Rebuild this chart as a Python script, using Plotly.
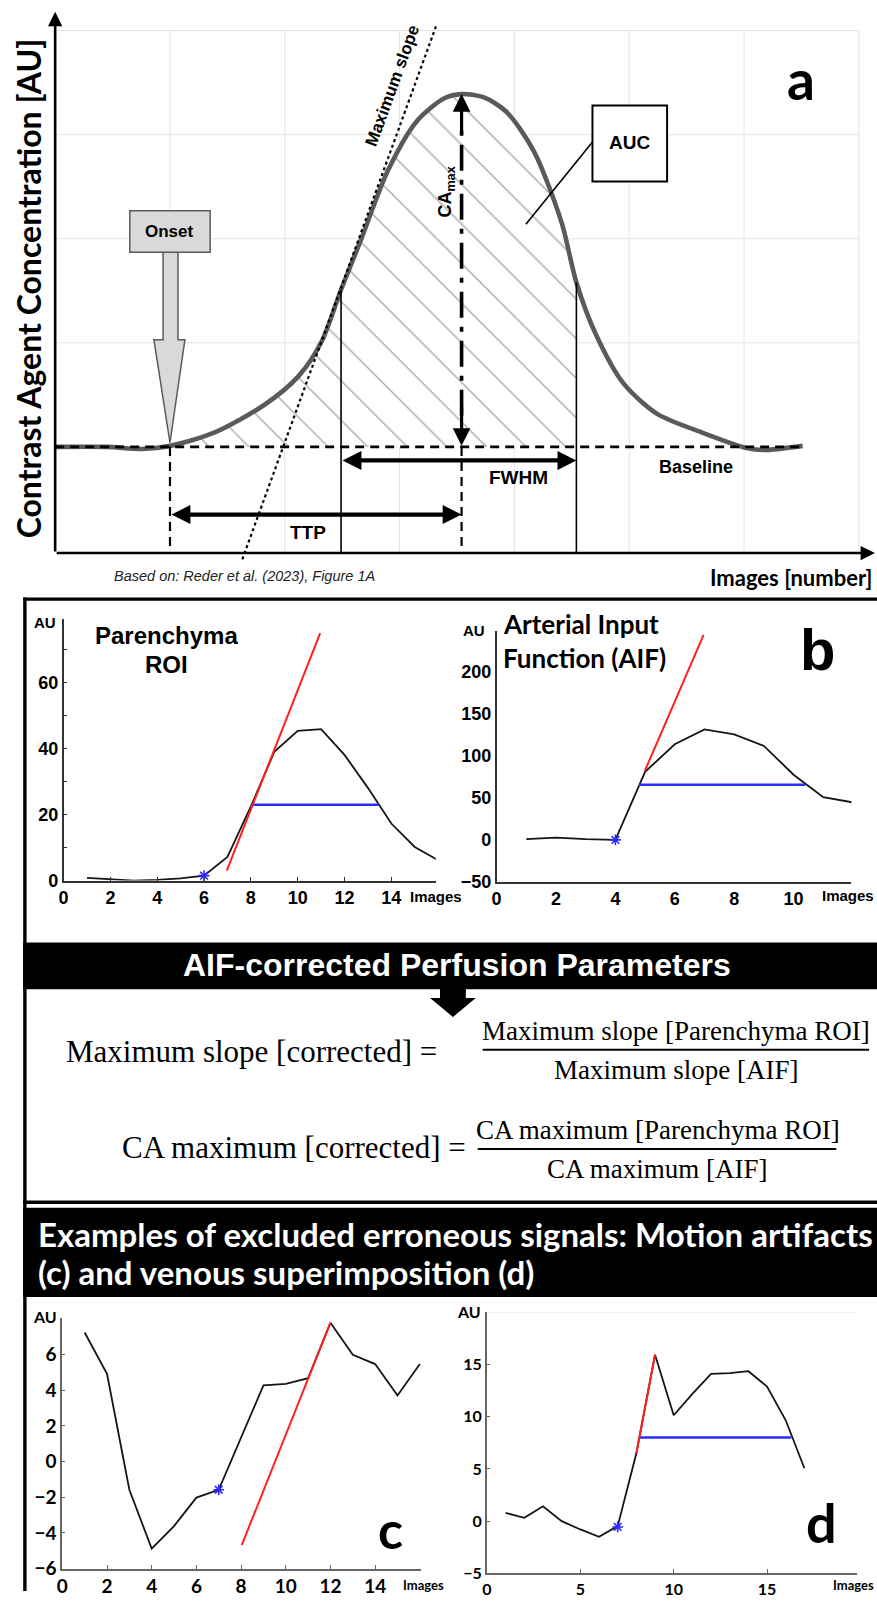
import plotly.graph_objects as go

W, H = 877, 1602

# ---------------- data ----------------
# (a) schematic curve: x in image-grid units, y in grid units above baseline
curve_x = [0.0, 0.45, 0.76, 1.0, 1.39, 1.83, 2.12, 2.32, 2.49, 2.66, 2.90, 3.15, 3.39, 3.54,
           3.73, 3.93, 4.17, 4.41, 4.54, 4.71, 4.95, 5.24, 5.63, 6.02, 6.17, 6.51]
curve_y = [0.0, 0.0, -0.02, 0.01, 0.14, 0.41, 0.68, 1.01, 1.51, 1.98, 2.66, 3.13, 3.35, 3.39,
           3.36, 3.22, 2.84, 2.16, 1.58, 1.08, 0.61, 0.32, 0.14, -0.01, -0.03, 0.01]
onset_x = 1.0
peak_x, peak_y = 3.54, 3.39
fwhm_x = [2.49, 4.54]
fwhm_curve_y = [1.51, 1.58]
slope_x = [1.63, 3.32]
slope_y = [-1.08, 4.05]
baseline_end = 6.5

# (b) parenchyma ROI
par_x = list(range(1, 17))
par_y = [0.8, 0.3, 0.0, 0.2, 0.7, 1.5, 7.2, 22.5, 39.0, 45.4, 45.9, 38.1, 28.1, 17.3, 10.2, 6.2]
par_onset = (6, 1.5)
par_slope_x = [6.97, 10.96]
par_slope_y = [3.0, 75.0]
par_fwhm_x = [8.03, 13.47]
par_fwhm_y = 23.0

# (b) arterial input function
aif_x = list(range(1, 13))
aif_y = [0.8, 2.8, 0.8, 0.0, 81.0, 113.8, 131.5, 125.6, 111.8, 77.6, 50.8, 44.6]
aif_onset = (4, 0.0)
aif_slope_x = [4.99, 6.97]
aif_slope_y = [82.0, 244.0]
aif_fwhm_x = [4.79, 10.39]
aif_fwhm_y = 65.7

# (c) motion artifact
c_x = list(range(1, 17))
c_y = [7.24, 4.92, -1.58, -4.88, -3.62, -2.02, -1.58, 1.30, 4.27, 4.36, 4.68, 7.79, 5.99, 5.47, 3.71, 5.47]
c_onset = (7, -1.58)
c_slope_x = [8.03, 12.0]
c_slope_y = [-4.68, 7.79]

# (d) venous superimposition
d_x = list(range(1, 18))
d_y = [0.79, 0.32, 1.42, 0.0, -0.79, -1.49, -0.47, 6.49, 15.92, 10.13, 12.18, 14.08, 14.15, 14.34, 12.88, 9.65, 5.06]
d_onset = (7, -0.55)
d_slope_x = [8.0, 9.0]
d_slope_y = [6.49, 15.92]
d_fwhm_x = [8.16, 16.3]
d_fwhm_y = 8.0

# ---------------- helpers ----------------
def PX(x):
    return x / W


def PY(y):
    return 1 - y / H


def dom_x(p0, s, r):
    return [max(0, (p0 + r[0] * s) / W), min(1, (p0 + r[1] * s) / W)]


def dom_y(p0, s, r):
    return [max(0, 1 - (p0 - r[0] * s) / H), min(1, 1 - (p0 - r[1] * s) / H)]


ARIAL = "Liberation Sans, Arial, sans-serif"
CALI = "Lato, Open Sans, sans-serif"
SERIF = "Liberation Serif, Times New Roman, serif"

RED = "#ff1f1f"
BLUE = "#2b2bff"
INK = "#151515"

fig = go.Figure()

# ---------------- panel a traces ----------------
hx = [x for x in curve_x if onset_x <= x <= fwhm_x[1]]
hy = [y for x, y in zip(curve_x, curve_y) if onset_x <= x <= fwhm_x[1]]
fig.add_trace(go.Scatter(x=hx, y=hy, xaxis="x", yaxis="y", mode="lines",
                         line=dict(width=0, shape="spline", smoothing=0.8),
                         fill="tozeroy", fillcolor="white",
                         fillpattern=dict(shape="\\", fgcolor="#555", bgcolor="white",
                                          size=28, solidity=0.05),
                         hoverinfo="skip"))
fig.add_trace(go.Scatter(x=curve_x, y=curve_y, xaxis="x", yaxis="y", mode="lines",
                         line=dict(color="#5a5a5a", width=4.6, shape="spline", smoothing=0.8),
                         hoverinfo="skip"))


def add_series(xs, ys, onset, sx, sy, fx, fy, xa, ya):
    fig.add_trace(go.Scatter(x=xs, y=ys, xaxis=xa, yaxis=ya, mode="lines",
                             line=dict(color=INK, width=1.8), hoverinfo="skip"))
    if fx is not None:
        fig.add_trace(go.Scatter(x=fx, y=[fy, fy], xaxis=xa, yaxis=ya, mode="lines",
                                 line=dict(color=BLUE, width=2.5), hoverinfo="skip"))
    fig.add_trace(go.Scatter(x=sx, y=sy, xaxis=xa, yaxis=ya, mode="lines",
                             line=dict(color=RED, width=2), hoverinfo="skip"))
    fig.add_trace(go.Scatter(x=[onset[0]], y=[onset[1]], xaxis=xa, yaxis=ya, mode="markers",
                             marker=dict(symbol="asterisk-open", size=9, color=BLUE,
                                         line=dict(color=BLUE, width=1.6)),
                             cliponaxis=False, hoverinfo="skip"))


add_series(par_x, par_y, par_onset, par_slope_x, par_slope_y, par_fwhm_x, par_fwhm_y, "x2", "y2")
add_series(aif_x, aif_y, aif_onset, aif_slope_x, aif_slope_y, aif_fwhm_x, aif_fwhm_y, "x3", "y3")
add_series(c_x, c_y, c_onset, c_slope_x, c_slope_y, None, None, "x4", "y4")
add_series(d_x, d_y, d_onset, d_slope_x, d_slope_y, d_fwhm_x, d_fwhm_y, "x5", "y5")

# ---------------- axes ----------------
ra_x, ra_y = [-0.05, 7.15], [-1.12, 4.2]
rb1_x, rb1_y = [0, 15.9], [0, 79.3]
rb2_x, rb2_y = [0, 11.95], [-50, 249]
rc_x, rc_y = [0, 16.07], [-6, 8.08]
rd_x, rd_y = [0, 19.8], [-5, 20]


def small_axis(rng, dom, anchor, tickvals, ticktext, font, color, lw, ticks, tlen):
    d = dict(range=rng, domain=dom, anchor=anchor, showline=True, linecolor=color,
             linewidth=lw, showgrid=False, zeroline=False, tickvals=tickvals,
             tickfont=font, ticks=ticks, ticklen=tlen, tickcolor=color, tickwidth=1,
             fixedrange=True)
    if ticktext is not None:
        d["ticktext"] = ticktext
    return d


fb = dict(family=ARIAL, size=18, color="black", weight="bold")
fc = dict(family=CALI, size=19, color="black", weight="bold")
fd = dict(family=CALI, size=16, color="black", weight="bold")

fig.update_layout(
    xaxis=dict(range=ra_x, domain=dom_x(49.5, 115.6, ra_x), anchor="y", visible=False, fixedrange=True),
    yaxis=dict(range=ra_y, domain=dom_y(450, 104.8, ra_y), anchor="x", visible=False, fixedrange=True),
    xaxis2=small_axis(rb1_x, dom_x(58, 23.57, rb1_x), "y2", list(range(0, 15, 2)), None, fb, "#333", 1.5, "inside", 4),
    yaxis2=small_axis(rb1_y, dom_y(886.7, 3.323, rb1_y), "x2", list(range(0, 80, 10)),
                      ["0", "", "20", "", "40", "", "60", ""], fb, "#333", 1.5, "inside", 4),
    xaxis3=small_axis(rb2_x, dom_x(494, 29.9, rb2_x), "y3", list(range(0, 12, 2)), None, fb, "#333", 1.5, "", 0),
    yaxis3=small_axis(rb2_y, dom_y(845.7, 0.846, rb2_y), "x3", list(range(-50, 201, 50)), None, fb, "#333", 1.5, "", 0),
    xaxis4=small_axis(rc_x, dom_x(56.7, 22.5, rc_x), "y4", list(range(0, 15, 2)), None, fc, "#666", 2, "inside", 4),
    yaxis4=small_axis(rc_y, dom_y(1471.7, 17.95, rc_y), "x4", list(range(-6, 7, 2)), None, fc, "#666", 2, "inside", 3),
    xaxis5=small_axis(rd_x, dom_x(484.3, 18.8, rd_x), "y5", [0, 5, 10, 15], None, fd, "#666", 2, "inside", 4),
    yaxis5=small_axis(rd_y, dom_y(1531.7, 10.53, rd_y), "x5", [-5, 0, 5, 10, 15], None, fd, "#666", 2, "inside", 3),
)

# ---------------- shapes ----------------
shapes = []


def dline(x0, y0, x1, y1, color="black", width=1.5, dash="solid", layer="above", ref=("x", "y")):
    shapes.append(dict(type="line", xref=ref[0], yref=ref[1], x0=x0, y0=y0, x1=x1, y1=y1,
                       line=dict(color=color, width=width, dash=dash), layer=layer))


# panel a grid
for i in range(1, 8):
    dline(i, -1.02, i, 4, color="#e3e3e3", width=1, layer="below")
for j in range(1, 5):
    dline(0, j, 7, j, color="#e3e3e3", width=1, layer="below")

# baseline and guide lines
dline(0, 0, baseline_end, 0, width=2.6, dash="9px,6px")
dline(onset_x, 0, onset_x, -1.02, width=2.2, dash="9px,6px")
dline(peak_x, 0, peak_x, -1.02, width=2.2, dash="9px,6px")
dline(fwhm_x[0], fwhm_curve_y[0], fwhm_x[0], -1.02, width=1.6)
dline(fwhm_x[1], fwhm_curve_y[1], fwhm_x[1], -1.02, width=1.6)
dline(slope_x[0], slope_y[0], slope_x[1], slope_y[1], width=2.2, dash="dot")
dline(peak_x, 0.3, peak_x, peak_y - 0.3, width=3.6, dash="26px,9px,5px,9px")

# onset block arrow
shapes.append(dict(type="path", xref="x", yref="y",
                   path="M 0.94,1.88 L 0.94,1.03 L 0.86,1.03 L 1.0,0.04 L 1.13,1.03 L 1.07,1.03 L 1.07,1.88 Z",
                   fillcolor="#d9d9d9", line=dict(color="#5a5a5a", width=1.5)))
shapes.append(dict(type="rect", xref="x", yref="y", x0=0.65, x1=1.35, y0=1.87, y1=2.27,
                   fillcolor="#d9d9d9", line=dict(color="#5a5a5a", width=1.5)))
# AUC box and leader
shapes.append(dict(type="rect", xref="x", yref="y", x0=4.68, x1=5.33, y0=2.55, y1=3.28,
                   fillcolor="white", line=dict(color="black", width=2)))
dline(4.68, 2.93, 4.10, 2.14, width=1.6)

# d top faint frame
dline(0, 20, 19.8, 20, color="#e6e6e6", width=1, ref=("x5", "y5"))


# page frame / bars
def pline(x0, y0, x1, y1, width=3.4, color="black"):
    shapes.append(dict(type="line", xref="paper", yref="paper", x0=PX(x0), y0=PY(y0),
                       x1=PX(x1), y1=PY(y1), line=dict(color=color, width=width)))


pline(19, 601.6, 19, 1602)
pline(17.3, 603.3, 877, 603.3)
pline(17.3, 1210.5, 877, 1210.5)
shapes.append(dict(type="rect", xref="paper", yref="paper", x0=PX(17.3), x1=1, y0=PY(996), y1=PY(949),
                   fillcolor="black", line=dict(width=0)))
shapes.append(dict(type="rect", xref="paper", yref="paper", x0=PX(17.3), x1=1, y0=PY(1306), y1=PY(1216),
                   fillcolor="black", line=dict(width=0)))
tri = [(437, 995), (437, 1005), (427, 1005), (450, 1024), (473, 1005), (463, 1005), (463, 995)]
shapes.append(dict(type="path", xref="paper", yref="paper",
                   path="M " + " L ".join(f"{PX(a)},{PY(b)}" for a, b in tri) + " Z",
                   fillcolor="black", line=dict(width=0)))
# fraction bars
pline(480, 1057, 869, 1057, width=2)
pline(475, 1157, 836, 1157, width=2)

# ---------------- annotations ----------------
ann = []


def arrow(x0, y0, x1, y1, width, both=False, size=1.0, ref=("x", "y")):
    ann.append(dict(x=x1, y=y1, ax=x0, ay=y0, xref=ref[0], yref=ref[1], axref=ref[0], ayref=ref[1],
                    text="", showarrow=True, arrowhead=2, arrowsize=size, arrowwidth=width,
                    arrowcolor="black", arrowside="end+start" if both else "end",
                    standoff=0, startstandoff=0))


def dtext(x, y, text, font, angle=0, xanchor="center"):
    ann.append(dict(x=x, y=y, xref="x", yref="y", text=text, showarrow=False, font=font,
                    textangle=angle, xanchor=xanchor, yanchor="middle"))


def ptext(x, y, text, font, xanchor="center", angle=0):
    ann.append(dict(x=PX(x), y=PY(y), xref="paper", yref="paper", text=text, showarrow=False,
                    font=font, xanchor=xanchor, yanchor="middle", textangle=angle))


def F(family, size, color="black", bold=True):
    d = dict(family=family, size=size, color=color)
    if bold:
        d["weight"] = "bold"
    return d


# panel a axes arrows
arrow(0, -1.02, 7.14, -1.02, 2.6, size=1.1)
arrow(0, -1.02, 0, 4.18, 2.6, size=1.1)
# TTP / FWHM / CAmax arrows
arrow(onset_x, -0.65, peak_x, -0.65, 4.2, both=True, size=0.9)
arrow(fwhm_x[0], -0.13, fwhm_x[1], -0.13, 4.2, both=True, size=0.9)
arrow(peak_x, peak_y - 0.4, peak_x, peak_y, 3.2, size=1.1)
arrow(peak_x, 0.4, peak_x, 0.01, 3.2, size=1.1)

dtext(1.0, 2.07, "Onset", F(ARIAL, 17))
dtext(5.005, 2.92, "AUC", F(ARIAL, 19))
dtext(2.94, 3.47, "Maximum slope", F(ARIAL, 17), angle=-70)
dtext(3.41, 2.45, "CA<sub>max</sub>", F(ARIAL, 18), angle=-90)
dtext(2.2, -0.82, "TTP", F(ARIAL, 19))
dtext(4.04, -0.29, "FWHM", F(ARIAL, 19))
dtext(5.58, -0.19, "Baseline", F(ARIAL, 18))

ptext(800.5, 80, "a", F(CALI, 55))
ptext(22.5, 290, "Contrast Agent Concentration [AU]", F(CALI, 32), angle=-90)
ptext(790, 581, "Images [number]", F(CALI, 22))
ptext(240, 580, "<i>Based on: Reder et al. (2023), Figure 1A</i>", F(ARIAL, 14.5, "#222", bold=False))

# panel b
ptext(39.3, 627, "AU", F(ARIAL, 15))
ptext(162, 640, "Parenchyma", F(ARIAL, 24))
ptext(162, 669.5, "ROI", F(ARIAL, 24))
ptext(432.5, 903, "Images", F(ARIAL, 15))
ptext(471, 635, "AU", F(ARIAL, 15))
ptext(498, 628, "Arterial Input", F(CALI, 26), xanchor="left")
ptext(498, 663, "Function (AIF)", F(CALI, 26), xanchor="left")
ptext(876, 902, "Images", F(ARIAL, 15), xanchor="right")
ptext(817, 654, "b", F(ARIAL, 58))

# header and formulas
ptext(454, 972, "AIF-corrected Perfusion Parameters", F(ARIAL, 32, "white"))
ptext(436, 1059, "Maximum slope [corrected] =", F(SERIF, 31, bold=False), xanchor="right")
ptext(674.5, 1038, "Maximum slope [Parenchyma ROI]", F(SERIF, 27, bold=False))
ptext(674.5, 1077, "Maximum slope [AIF]", F(SERIF, 27, bold=False))
ptext(465, 1155, "CA maximum [corrected] =", F(SERIF, 31, bold=False), xanchor="right")
ptext(656, 1138, "CA maximum [Parenchyma ROI]", F(SERIF, 27, bold=False))
ptext(656, 1177, "CA maximum [AIF]", F(SERIF, 27, bold=False))

ptext(30.7, 1243, "Examples of excluded erroneous signals: Motion artifacts", F(CALI, 33, "white"), xanchor="left")
ptext(30.7, 1281, "(c) and venous superimposition (d)", F(CALI, 33, "white"), xanchor="left")

# panels c, d
ptext(39.5, 1326, "AU", F(CALI, 16))
ptext(420.8, 1596, "Images", F(CALI, 13))
ptext(387, 1540, "c", F(CALI, 52))
ptext(465.7, 1321, "AU", F(CALI, 16))
ptext(876, 1596, "Images", F(CALI, 13), xanchor="right")
ptext(821, 1533, "d", F(CALI, 54))

fig.update_layout(width=W, height=H, autosize=False, margin=dict(l=0, r=0, t=0, b=0),
                  paper_bgcolor="white", plot_bgcolor="white", showlegend=False,
                  shapes=shapes, annotations=ann, font=dict(family=ARIAL))

fig.write_html("out.html")
